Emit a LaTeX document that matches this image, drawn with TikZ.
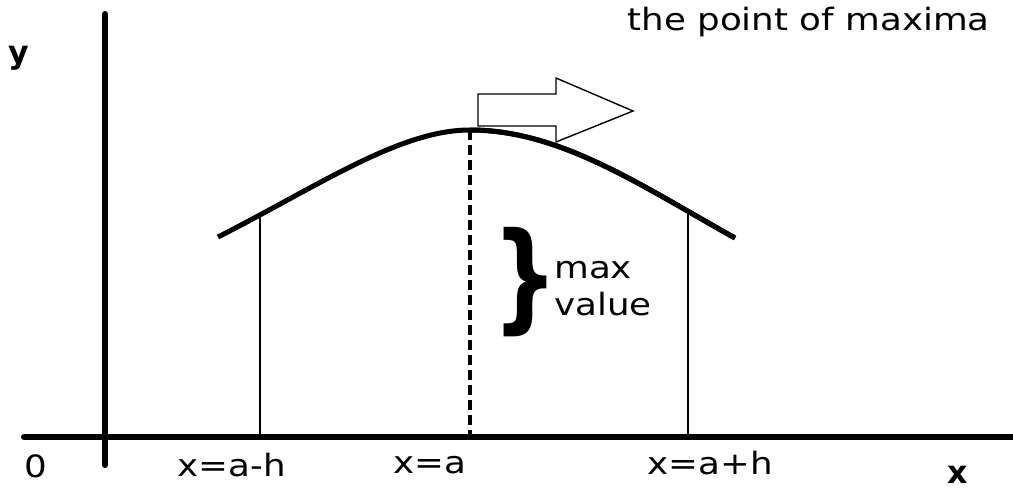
\documentclass[tikz,border=0pt]{standalone}
\usepackage{fontspec}
\setmainfont{DejaVu Sans}
\newcommand{\wide}[1]{\scalebox{1.16}[1]{#1}}
\begin{document}
\begin{tikzpicture}[x=0.02cm,y=-0.02cm,
  axis/.style={line width=3.4pt,line cap=round},
  curveline/.style={line width=2.85pt},
  thinline/.style={line width=0.8pt},
  lbl/.style={font=\fontsize{17.5pt}{20pt}\selectfont,inner sep=0pt},
  bold lbl/.style={font=\fontsize{18pt}{20pt}\selectfont\bfseries,inner sep=0pt}]
\useasboundingbox (0,0) rectangle (1013,490);
% axes
\coordinate (ytop) at (105,14);
\coordinate (ybot) at (105,465);
\coordinate (xl) at (24,437);
\coordinate (xr) at (1016,437);
\draw[axis] (ytop) -- (ybot);
\draw[axis] (xl) -- (xr);
% curve
\coordinate (cl) at (218,237);
\coordinate (pk) at (470,130);
\coordinate (cr) at (735,238);
\draw[curveline] (cl) .. controls (320,185) and (400,130) .. (pk)
                 .. controls (560,130) and (640,185) .. (cr);
% vertical lines
\coordinate (la) at (260,217);
\coordinate (lb) at (260,437);
\coordinate (ra) at (688,213);
\coordinate (rb) at (688,437);
\draw[thinline] (la) -- (lb);
\draw[thinline] (ra) -- (rb);
\coordinate (pb) at (470,437);
\draw[line width=2pt,dash pattern=on 5.7pt off 2.85pt] (pk) -- (pb);
% block arrow
\draw[line width=0.8pt,fill=white]
  (478,94) -- (556,94) -- (556,78) -- (633,111) -- (556,142) -- (556,126) -- (478,126) -- cycle;
\draw[curveline] (pk) .. controls (560,130) and (640,185) .. (cr);
% brace
\node[inner sep=0pt] (brace) at (525,282) {\scalebox{0.85}[1.09]{\fontsize{62pt}{62pt}\selectfont\bfseries\}}};
\node[lbl,anchor=west] (mx) at (554,270) {\wide{max}};
\node[lbl,anchor=west] (val) at (554,304) {\wide{value}};
% labels
\node[lbl,anchor=east] (title) at (990,22) {\wide{the point of maxima}};
\node[bold lbl] (ylab) at (19,58) {y};
\node[bold lbl] (xlab) at (958,475) {x};
\node[lbl] (o) at (36,466) {\wide{0}};
\node[lbl] (xah) at (232,465) {\wide{x=a-h}};
\node[lbl] (xa) at (430,465) {\wide{x=a}};
\node[lbl] (xaph) at (710,463) {\wide{x=a+h}};
\end{tikzpicture}
\end{document}
